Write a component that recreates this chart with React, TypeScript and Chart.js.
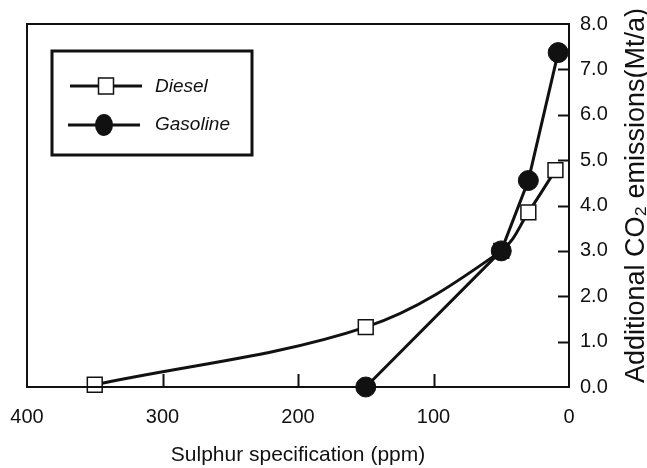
import React, { useEffect, useRef } from "react";
import { Chart, registerables } from "chart.js";

Chart.register(...registerables);

const sulphurDiesel = [350, 150, 50, 30, 10];
const co2Diesel = [0.05, 1.32, 3.0, 3.85, 4.78];
const sulphurGasoline = [150, 50, 30, 8];
const co2Gasoline = [0.0, 3.0, 4.55, 7.37];
const xInnerTicks = [300, 200, 100];
const yInnerTicks = [1, 2, 3, 4, 5, 6, 7];
const seriesNames = ["Diesel", "Gasoline"];
const yTitle = "Additional CO₂ emissions(Mt/a)";

const FONT = "'Liberation Sans', Arial, Helvetica, sans-serif";
const INK = "#111";

const framePlugin = {
  id: "frameAndLegend",
  afterDraw(chart: any) {
    const { ctx, chartArea, scales } = chart;
    const { left, right, top, bottom } = chartArea;
    ctx.save();
    ctx.strokeStyle = INK;
    // plot frame
    ctx.lineWidth = 2;
    ctx.strokeRect(left, top, right - left, bottom - top);
    // inner ticks
    ctx.lineWidth = 2;
    ctx.beginPath();
    xInnerTicks.forEach((v) => {
      const px = Math.round(scales.x.getPixelForValue(v)) + 0.5;
      ctx.moveTo(px, bottom);
      ctx.lineTo(px, bottom - 13);
    });
    yInnerTicks.forEach((v) => {
      const py = Math.round(scales.y.getPixelForValue(v)) + 0.5;
      ctx.moveTo(right, py);
      ctx.lineTo(right - 11, py);
    });
    ctx.stroke();

    // y-axis title, reading bottom to top
    ctx.save();
    ctx.translate(637, (top + bottom) / 2 - 10);
    ctx.rotate(-Math.PI / 2);
    ctx.fillStyle = INK;
    ctx.font = `27px ${FONT}`;
    ctx.textAlign = "center";
    ctx.textBaseline = "middle";
    ctx.fillText(yTitle, 0, 0);
    ctx.restore();

    // legend
    const lx = left + 25;
    const ly = top + 27;
    ctx.lineWidth = 3;
    ctx.strokeRect(lx, ly, 200, 104);
    // Diesel row
    const r1 = ly + 35;
    ctx.lineWidth = 3;
    ctx.beginPath();
    ctx.moveTo(lx + 18, r1);
    ctx.lineTo(lx + 90, r1);
    ctx.stroke();
    ctx.fillStyle = "#fff";
    ctx.lineWidth = 1.5;
    ctx.fillRect(lx + 46.5, r1 - 8, 15, 16);
    ctx.strokeRect(lx + 46.5, r1 - 8, 15, 16);
    // Gasoline row
    const r2 = ly + 74;
    ctx.lineWidth = 3;
    ctx.beginPath();
    ctx.moveTo(lx + 16, r2);
    ctx.lineTo(lx + 88, r2);
    ctx.stroke();
    ctx.fillStyle = INK;
    ctx.beginPath();
    ctx.ellipse(lx + 52, r2, 9, 11, 0, 0, Math.PI * 2);
    ctx.fill();
    // text
    ctx.fillStyle = INK;
    ctx.font = `italic 19px ${FONT}`;
    ctx.textBaseline = "middle";
    ctx.textAlign = "left";
    ctx.fillText(seriesNames[0], lx + 103, r1 + 1);
    ctx.fillText(seriesNames[1], lx + 103, r2);
    ctx.restore();
  },
};

export default function App() {
  const ref = useRef<HTMLCanvasElement>(null);
  useEffect(() => {
    const canvas = ref.current!;
    const chart = new Chart(canvas, {
      type: "line",
      data: {
        datasets: [
          {
            label: seriesNames[0],
            data: sulphurDiesel.map((x, i) => ({ x, y: co2Diesel[i] })),
            borderColor: INK,
            borderWidth: 3,
            tension: 0.35,
            pointStyle: "rect",
            pointRadius: 10.5,
            pointBackgroundColor: "#fff",
            pointBorderColor: INK,
            pointBorderWidth: 1.5,
            clip: false as any,
            order: 1,
          },
          {
            label: seriesNames[1],
            data: sulphurGasoline.map((x, i) => ({ x, y: co2Gasoline[i] })),
            borderColor: INK,
            borderWidth: 3,
            tension: 0,
            pointStyle: "circle",
            pointRadius: 10,
            pointBackgroundColor: INK,
            pointBorderColor: INK,
            pointBorderWidth: 1,
            clip: false as any,
            order: 0,
          },
        ],
      },
      options: {
        responsive: false,
        animation: false,
        layout: { padding: { left: 27, top: 24, right: 0, bottom: 0 } },
        plugins: {
          legend: { display: false },
          tooltip: { enabled: false },
        },
        scales: {
          x: {
            type: "linear",
            position: "bottom",
            reverse: true,
            min: 0,
            max: 400,
            grid: { display: false, drawTicks: false },
            border: { display: false },
            ticks: {
              stepSize: 100,
              padding: 18,
              color: INK,
              font: { family: FONT, size: 20 },
              maxRotation: 0,
            },
            title: {
              display: true,
              text: "Sulphur specification (ppm)",
              color: INK,
              font: { family: FONT, size: 21 },
              padding: { top: 0, bottom: 0 },
            },
            afterFit(scale: any) {
              scale.height = 81;
              scale.paddingLeft = 0;
              scale.paddingRight = 0;
            },
          },
          y: {
            type: "linear",
            position: "right",
            min: 0,
            max: 8,
            grid: { display: false, drawTicks: false },
            border: { display: false },
            ticks: {
              stepSize: 1,
              padding: 11,
              color: INK,
              font: { family: FONT, size: 20 },
              callback: (v: any) => Number(v).toFixed(1),
            },
            afterFit(scale: any) {
              scale.width = 78;
              scale.paddingTop = 0;
              scale.paddingBottom = 0;
            },
          },
        },
      },
      plugins: [framePlugin],
    });
    return () => chart.destroy();
  }, []);
  return (
    <div style={{ position: "absolute", left: 0, top: 0, width: 647, height: 468, background: "#fff" }}>
      <canvas ref={ref} width={647} height={468} />
    </div>
  );
}
